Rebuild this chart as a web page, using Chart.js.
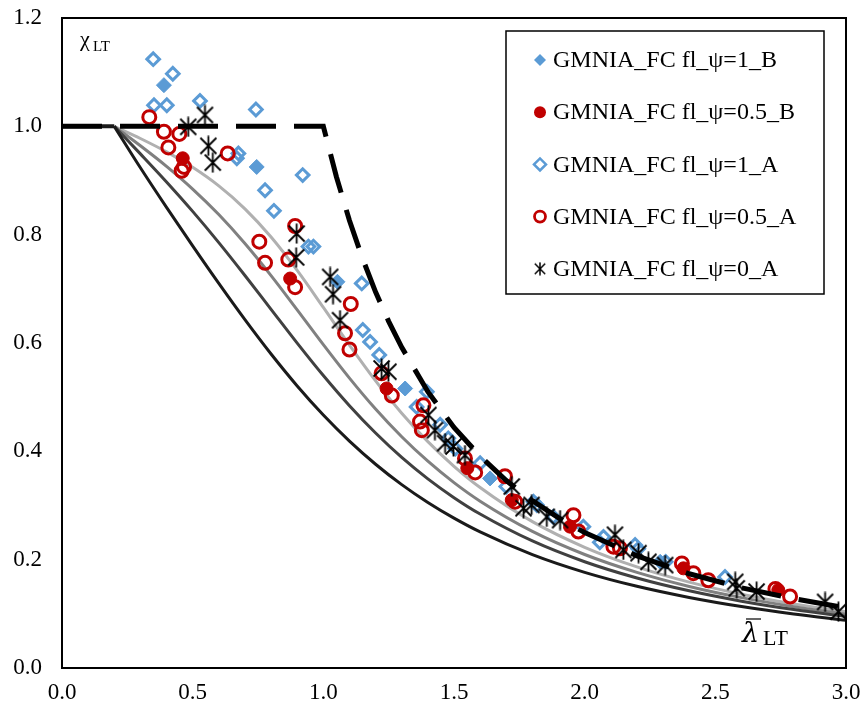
<!DOCTYPE html>
<html>
<head>
<meta charset="utf-8">
<script src="https://cdn.jsdelivr.net/npm/chart.js@4.4.0/dist/chart.umd.min.js"></script>
<style>
  html, body { margin: 0; padding: 0; background: #fff; }
</style>
</head>
<body>
<canvas id="chart" width="864" height="709"></canvas>
<script>
// buckling curves (general case, plateau to 0.2)
const curveLambda = [0.2, 0.3, 0.4, 0.5, 0.6, 0.7, 0.8, 0.9, 1.0, 1.1, 1.2, 1.3, 1.4, 1.5, 1.6, 1.8, 2.0, 2.2, 2.4, 2.6, 2.8, 3.0];
const curveA = [1.0, 0.9775, 0.9528, 0.9243, 0.8900, 0.8477, 0.7957, 0.7339, 0.6656, 0.5960, 0.5300, 0.4703, 0.4179, 0.3724, 0.3332, 0.2702, 0.2229, 0.1867, 0.1585, 0.1362, 0.1182, 0.1036];
const curveB = [1.0, 0.9641, 0.9261, 0.8842, 0.8371, 0.7837, 0.7245, 0.6612, 0.5970, 0.5352, 0.4781, 0.4269, 0.3817, 0.3422, 0.3079, 0.2521, 0.2095, 0.1765, 0.1506, 0.1299, 0.1132, 0.0994];
const curveC = [1.0, 0.9491, 0.8973, 0.8430, 0.7854, 0.7247, 0.6622, 0.5998, 0.5399, 0.4842, 0.4338, 0.3888, 0.3492, 0.3145, 0.2842, 0.2345, 0.1962, 0.1662, 0.1425, 0.1234, 0.1079, 0.0951];
const curveD = [1.0, 0.9235, 0.8504, 0.7793, 0.7100, 0.6431, 0.5797, 0.5208, 0.4671, 0.4189, 0.3762, 0.3385, 0.3055, 0.2766, 0.2512, 0.2093, 0.1766, 0.1508, 0.1302, 0.1134, 0.0997, 0.0882];
const plateauLambda = [0, 0.2];
const plateauChi = [1, 1];

// elastic (Euler) curve, dashed
const eulerLambda = [0, 1.0, 1.05, 1.1, 1.15, 1.2, 1.25, 1.3, 1.4, 1.5, 1.6, 1.7, 1.8, 1.9, 2.0, 2.2, 2.4, 2.6, 2.8, 3.0];
const eulerChi = [1, 1, 0.907, 0.826, 0.756, 0.694, 0.640, 0.592, 0.510, 0.444, 0.391, 0.346, 0.309, 0.277, 0.250, 0.207, 0.174, 0.148, 0.128, 0.111];

// GMNIA results [lambda, chi]
const psi1B = [[0.390,1.076],[0.745,0.925],[1.054,0.713],[1.313,0.516],[1.638,0.350],[2.289,0.196]];
const psi05B = [[0.462,0.941],[0.873,0.719],[1.242,0.516],[1.551,0.369],[1.721,0.310],[1.944,0.261],[2.378,0.184],[2.741,0.144]];
const psi1A = [[0.349,1.124],[0.424,1.097],[0.352,1.039],[0.401,1.039],[0.528,1.047],[0.742,1.031],[0.675,0.950],[0.669,0.941],
  [0.921,0.910],[0.777,0.882],[0.811,0.844],[0.943,0.778],[0.962,0.778],[1.147,0.710],[1.151,0.624],[1.179,0.602],[1.214,0.578],
  [1.396,0.510],[1.357,0.482],[1.447,0.449],[1.478,0.424],[1.505,0.405],[1.600,0.378],[1.700,0.335],[1.804,0.307],[1.817,0.301],
  [1.880,0.279],[1.995,0.261],[2.072,0.242],[2.058,0.232],[2.193,0.227],[2.205,0.220],[2.310,0.196],[2.537,0.168]];
const psi05A = [[0.334,1.017],[0.390,0.990],[0.449,0.986],[0.407,0.961],[0.467,0.925],[0.458,0.918],[0.634,0.950],[0.892,0.816],
  [0.755,0.787],[0.777,0.748],[0.866,0.754],[0.892,0.703],[1.105,0.672],[1.083,0.618],[1.100,0.588],[1.223,0.544],[1.262,0.503],
  [1.383,0.485],[1.370,0.455],[1.377,0.439],[1.542,0.387],[1.581,0.361],[1.695,0.354],[1.734,0.307],[1.957,0.282],[1.976,0.252],
  [2.110,0.224],[2.135,0.221],[2.372,0.193],[2.416,0.175],[2.473,0.162],[2.730,0.146],[2.786,0.132]];
const psi0A = [[0.483,0.999],[0.547,1.021],[0.560,0.964],[0.577,0.933],[0.898,0.802],[0.896,0.758],[1.026,0.722],[1.037,0.690],
  [1.064,0.642],[1.223,0.553],[1.249,0.547],[1.402,0.467],[1.427,0.439],[1.466,0.415],[1.498,0.409],[1.542,0.393],[1.721,0.335],
  [1.766,0.295],[1.797,0.301],[1.855,0.279],[1.906,0.273],[2.116,0.246],[2.148,0.218],[2.206,0.212],[2.244,0.196],[2.308,0.190],
  [2.576,0.159],[2.582,0.147],[2.658,0.141],[2.920,0.122],[2.971,0.104]];

const xTicks = { min: 0, max: 3, step: 0.5 };
const yTicks = { min: 0, max: 1.2, step: 0.2 };

const BLUE = '#5B9BD5';
const RED = '#C00000';
const FONT = '"Liberation Serif", "Times New Roman", serif';

const toXY = (xs, ys) => xs.map((x, i) => ({ x, y: ys[i] }));
const toPts = arr => arr.map(p => ({ x: p[0], y: p[1] }));

// excel-like asterisk marker
function makeStar(size, lw) {
  const c = document.createElement('canvas');
  c.width = size; c.height = size;
  const g = c.getContext('2d');
  const m = size / 2, r = size / 2 - 0.5, d = r * 0.8;
  g.strokeStyle = '#000';
  g.lineWidth = lw;
  g.beginPath();
  g.moveTo(m, m - r); g.lineTo(m, m + r);
  g.moveTo(m - d, m - d); g.lineTo(m + d, m + d);
  g.moveTo(m + d, m - d); g.lineTo(m - d, m + d);
  g.stroke();
  return c;
}
const star = makeStar(21, 1.8);
const starSmall = makeStar(14, 1.5);

function curve(data, color, order) {
  return {
    data, showLine: true, borderColor: color, borderWidth: 3, pointRadius: 0,
    cubicInterpolationMode: 'monotone', order, legend: false
  };
}

const datasets = [
  { label: 'GMNIA_FC fl_ψ=1_B', data: toPts(psi1B), pointStyle: 'rectRot', pointRadius: 7.5,
    backgroundColor: BLUE, borderColor: BLUE, borderWidth: 1, order: 5, legend: 'fdiamond' },
  { label: 'GMNIA_FC fl_ψ=0.5_B', data: toPts(psi05B), pointStyle: 'circle', pointRadius: 6.5,
    backgroundColor: RED, borderColor: RED, borderWidth: 1, order: 3, legend: 'fcircle' },
  { label: 'GMNIA_FC fl_ψ=1_A', data: toPts(psi1A), pointStyle: 'rectRot', pointRadius: 6.3,
    backgroundColor: 'rgba(0,0,0,0)', borderColor: BLUE, borderWidth: 3, order: 4, legend: 'odiamond' },
  { label: 'GMNIA_FC fl_ψ=0.5_A', data: toPts(psi05A), pointStyle: 'circle', pointRadius: 6.5,
    backgroundColor: 'rgba(0,0,0,0)', borderColor: RED, borderWidth: 3, order: 2, legend: 'ocircle' },
  { label: 'GMNIA_FC fl_ψ=0_A', data: toPts(psi0A), pointStyle: star, pointRadius: 10,
    order: 0, legend: 'star' },
  { data: toXY(eulerLambda, eulerChi), showLine: true, borderColor: '#000', borderWidth: 5,
    borderDash: [40, 18], pointRadius: 0, tension: 0, order: 1, legend: false },
  curve(toXY(curveLambda, curveA), '#B0B0B0', 9),
  curve(toXY(curveLambda, curveB), '#808080', 8),
  curve(toXY(curveLambda, curveC), '#404040', 7),
  curve(toXY(curveLambda, curveD), '#1A1A1A', 6),
  { data: toXY(plateauLambda, plateauChi), showLine: true, borderColor: '#1A1A1A', borderWidth: 4,
    pointRadius: 0, order: 6, legend: false }
];

const frame = {
  id: 'frame',
  afterDraw(chart) {
    const { ctx, chartArea: a } = chart;
    ctx.save();
    ctx.strokeStyle = '#000';
    ctx.lineWidth = 2;
    ctx.strokeRect(a.left, a.top, a.right - a.left, a.bottom - a.top);

    // axis symbols
    ctx.fillStyle = '#000';
    ctx.textBaseline = 'alphabetic';
    ctx.font = '22px ' + FONT;
    ctx.fillText('χ', 80, 46);
    ctx.font = '15px ' + FONT;
    ctx.fillText('LT', 93, 51);
    ctx.font = 'italic 27px "DejaVu Serif", serif';
    ctx.fillText('λ', 742, 642);
    ctx.lineWidth = 1.2;
    ctx.beginPath(); ctx.moveTo(746, 619); ctx.lineTo(761, 619); ctx.stroke();
    ctx.font = '22px ' + FONT;
    ctx.fillText('LT', 763, 645);

    // legend
    const box = { x: 506, y: 31, w: 318, h: 263 };
    ctx.fillStyle = '#fff';
    ctx.fillRect(box.x, box.y, box.w, box.h);
    ctx.lineWidth = 1.5;
    ctx.strokeStyle = '#000';
    ctx.strokeRect(box.x, box.y, box.w, box.h);
    const items = chart.data.datasets.filter(d => d.legend);
    ctx.font = '24px ' + FONT;
    ctx.textBaseline = 'middle';
    items.forEach((d, i) => {
      const y = 60 + i * 52.2, mx = 540;
      ctx.save();
      if (d.legend === 'fdiamond' || d.legend === 'odiamond') {
        const r = 6;
        ctx.beginPath();
        ctx.moveTo(mx - r, y); ctx.lineTo(mx, y - r); ctx.lineTo(mx + r, y); ctx.lineTo(mx, y + r); ctx.closePath();
        if (d.legend === 'fdiamond') { ctx.fillStyle = BLUE; ctx.fill(); }
        else { ctx.lineWidth = 2.5; ctx.strokeStyle = BLUE; ctx.stroke(); }
      } else if (d.legend === 'fcircle' || d.legend === 'ocircle') {
        ctx.beginPath();
        if (d.legend === 'fcircle') { ctx.arc(mx, y, 6, 0, Math.PI * 2); ctx.fillStyle = RED; ctx.fill(); }
        else { ctx.arc(mx, y, 5.5, 0, Math.PI * 2); ctx.lineWidth = 2.8; ctx.strokeStyle = RED; ctx.stroke(); }
      } else {
        ctx.drawImage(starSmall, mx - starSmall.width / 2, y - starSmall.height / 2);
      }
      ctx.restore();
      ctx.fillStyle = '#000';
      ctx.fillText(d.label, 553, y + 1);
    });
    ctx.restore();
  }
};

new Chart(document.getElementById('chart'), {
  type: 'scatter',
  data: { datasets },
  options: {
    responsive: false,
    animation: false,
    events: [],
    layout: { padding: { top: 18, right: 18, left: 0, bottom: 0 } },
    plugins: { legend: { display: false }, tooltip: { enabled: false } },
    scales: {
      x: {
        type: 'linear', min: xTicks.min, max: xTicks.max,
        grid: { display: false, drawTicks: false, tickLength: 0 },
        border: { display: false },
        ticks: { stepSize: xTicks.step, padding: 11, color: '#000', font: { family: FONT, size: 23 },
          callback: v => v.toFixed(1) },
        afterFit(s) { s.height = 41; s.paddingLeft = 0; s.paddingRight = 0; }
      },
      y: {
        type: 'linear', min: yTicks.min, max: yTicks.max,
        grid: { display: false, drawTicks: false, tickLength: 0 },
        border: { display: false },
        ticks: { stepSize: yTicks.step, padding: 20, color: '#000', font: { family: FONT, size: 23 },
          callback: v => v.toFixed(1) },
        afterFit(s) { s.width = 62; s.paddingTop = 0; s.paddingBottom = 0; }
      }
    }
  },
  plugins: [frame]
});
</script>
</body>
</html>
